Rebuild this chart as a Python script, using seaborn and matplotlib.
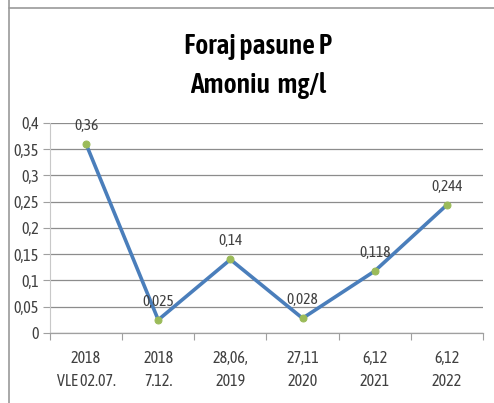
import matplotlib
matplotlib.use("Agg")
import matplotlib.pyplot as plt
from matplotlib.lines import Line2D
import seaborn as sns
import pandas as pd

# Sampling dates and measured ammonium (mg/l)
dates = ["2018\nVLE 02.07.", "2018\n7.12.", "28,06,\n2019", "27,11\n2020", "6,12\n2021", "6,12\n2022"]
amoniu = [0.36, 0.025, 0.14, 0.028, 0.118, 0.244]
value_labels = ["0,36", "0,025", "0,14", "0,028", "0,118", "0,244"]
y_ticks = [0, 0.05, 0.1, 0.15, 0.2, 0.25, 0.3, 0.35, 0.4]
y_tick_labels = ["0", "0,05", "0,1", "0,15", "0,2", "0,25", "0,3", "0,35", "0,4"]

df = pd.DataFrame({"pos": range(len(dates)), "amoniu": amoniu})

sns.set_style("white")
plt.rcParams["font.family"] = ["Asap Condensed", "DejaVu Sans"]

fig = plt.figure(figsize=(4.94, 4.03), dpi=100)
ax = fig.add_axes([0.1012, 0.1737, 0.8765, 0.5211])

sns.lineplot(data=df, x="pos", y="amoniu", ax=ax, color="#4A7EBB", linewidth=2.6,
             marker="o", markersize=5, markerfacecolor="#9BBB59",
             markeredgecolor="#9BBB59", zorder=3)

for i, (v, lab) in enumerate(zip(amoniu, value_labels)):
    ax.annotate(lab, (i, v), xytext=(0, 8), textcoords="offset points",
                ha="center", va="bottom", fontsize=11, color="#404040")

ax.set_xlim(-0.5, len(dates) - 0.5)
ax.set_ylim(0, 0.4)
ax.set_yticks(y_ticks)
ax.set_yticklabels(y_tick_labels, fontsize=11.5, color="#404040")
ax.set_xticks(range(len(dates)))
ax.set_xticklabels(dates, fontsize=11.5, color="#404040", linespacing=1.45)
ax.tick_params(axis="x", length=0, pad=12)
ax.tick_params(axis="y", length=5, color="#A0A0A0", width=0.8, pad=3, left=True)
ax.set_xticks([i - 0.5 for i in range(len(dates) + 1)], minor=True)
ax.tick_params(axis="x", which="minor", length=5, color="#A0A0A0", width=0.8, bottom=True)
ax.set_xlabel("")
ax.set_ylabel("")

ax.grid(axis="y", color="#8C8C8C", linewidth=0.9)
ax.set_axisbelow(True)
for side in ["top", "right"]:
    ax.spines[side].set_visible(False)
ax.spines["left"].set_color("#C8C8C8")
ax.spines["left"].set_linewidth(0.8)
ax.spines["bottom"].set_color("#A0A0A0")
ax.spines["bottom"].set_linewidth(0.9)

fig.text(0.522, 0.885, "Foraj pasune P", ha="center", va="center",
         fontsize=20, fontweight=600, color="black")
fig.text(0.522, 0.787, "Amoniu  mg/l", ha="center", va="center",
         fontsize=20, fontweight=600, color="black")

# Frame lines of the surrounding box
fig.add_artist(Line2D([8.5 / 494, 8.5 / 494], [0, 1], transform=fig.transFigure,
                      color="#999999", linewidth=1.2))
fig.add_artist(Line2D([8.5 / 494, 1], [1 - 7.5 / 403, 1 - 7.5 / 403], transform=fig.transFigure,
                      color="#999999", linewidth=1.2))

fig.savefig("out.png", dpi=100)
